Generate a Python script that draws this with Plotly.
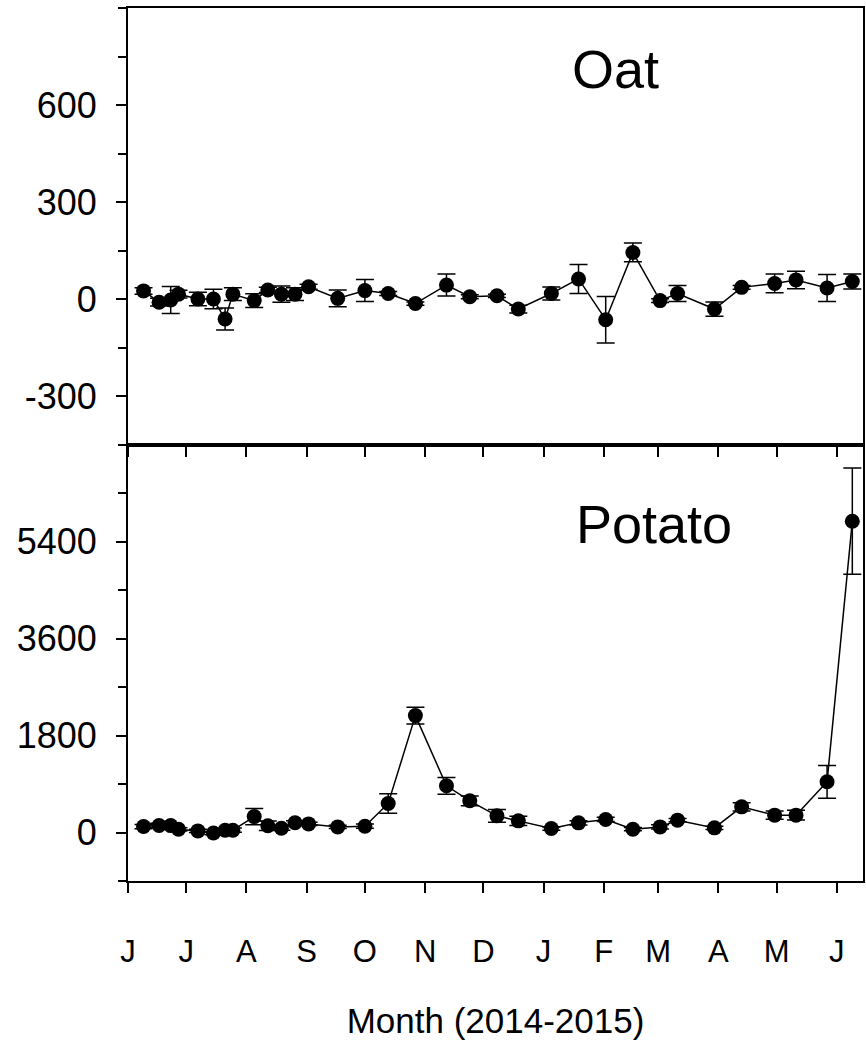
import plotly.graph_objects as go
from plotly.subplots import make_subplots

dates = ["2014-06-09", "2014-06-17", "2014-06-23", "2014-06-27", "2014-07-07", "2014-07-15",
         "2014-07-21", "2014-07-25", "2014-08-05", "2014-08-12", "2014-08-19", "2014-08-26",
         "2014-09-02", "2014-09-17", "2014-10-01", "2014-10-13", "2014-10-27", "2014-11-12",
         "2014-11-24", "2014-12-08", "2014-12-19", "2015-01-05", "2015-01-19", "2015-02-02",
         "2015-02-16", "2015-03-02", "2015-03-11", "2015-03-30", "2015-04-13", "2015-04-30",
         "2015-05-11", "2015-05-27", "2015-06-09"]

oat = [25, -10, -3, 15, 0, 0, -62, 15, -5, 28, 15, 15, 38, 2, 26, 17, -14, 43, 7, 10,
       -31, 17, 62, -64, 144, -5, 17, -31, 36, 48, 59, 34, 54]
oat_err = [10, 12, 42, 12, 21, 30, 34, 20, 21, 8, 25, 20, 8, 26, 34, 6, 5, 34, 6, 5,
           12, 20, 45, 72, 29, 6, 25, 22, 6, 29, 27, 42, 23]

potato = [110, 130, 128, 60, 30, -10, 43, 43, 295, 125, 80, 180, 160, 104, 117, 539, 2169,
          867, 588, 309, 216, 74, 179, 242, 61, 104, 229, 86, 476, 322, 322, 941, 5777]
potato_err = [40, 40, 40, 30, 30, 30, 30, 40, 150, 90, 40, 40, 30, 30, 40, 180, 155,
              155, 90, 118, 84, 30, 40, 40, 30, 40, 30, 30, 75, 75, 90, 304, 986]

month_ticks = ["2014-06-01", "2014-07-01", "2014-08-01", "2014-09-01", "2014-10-01",
               "2014-11-01", "2014-12-01", "2015-01-01", "2015-02-01", "2015-03-01",
               "2015-04-01", "2015-05-01", "2015-06-01"]
month_labels = ["J", "J", "A", "S", "O", "N", "D", "J", "F", "M", "A", "M", "J"]

oat_ticks = [-300, 0, 300, 600]
oat_labels = ["-300", "0", "300", "600"]
potato_ticks = [0, 1800, 3600, 5400]
potato_labels = ["0", "1800", "3600", "5400"]

FONT = "Liberation Sans, Arial, sans-serif"

fig = make_subplots(rows=2, cols=1, shared_xaxes=False, vertical_spacing=0)

def add_series(y, err, row):
    fig.add_trace(go.Scatter(
        x=dates, y=y, mode="lines+markers",
        line=dict(color="black", width=1.5),
        marker=dict(color="black", size=15),
        error_y=dict(type="data", array=err, visible=True, color="black",
                     thickness=1.5, width=9),
        showlegend=False), row=row, col=1)

add_series(oat, oat_err, 1)
add_series(potato, potato_err, 2)

xrange = ["2014-06-01", "2015-06-14 12:00"]
common_x = dict(range=xrange, type="date", tickmode="array", tickvals=month_ticks,
                showline=True, linecolor="black", linewidth=2, mirror=True,
                ticks="outside", ticklen=10, tickwidth=1.5, tickcolor="black",
                showgrid=False, zeroline=False)

fig.update_xaxes(**common_x, showticklabels=False, row=1, col=1)
fig.update_xaxes(**common_x, ticktext=month_labels, showticklabels=True,
                 tickfont=dict(family=FONT, size=31, color="black"),
                 ticklabelstandoff=32,
                 title=dict(text="Month (2014-2015)", standoff=40,
                            font=dict(family=FONT, size=35, color="black")),
                 row=2, col=1)

common_y = dict(showline=True, linecolor="black", linewidth=2, mirror=True,
                ticks="outside", ticklen=10, tickwidth=1.5, tickcolor="black",
                showgrid=False, zeroline=False, tickmode="array",
                tickfont=dict(family=FONT, size=36, color="black"),
                ticklabelstandoff=12)

fig.update_yaxes(**common_y, range=[-450, 900], tickvals=oat_ticks, ticktext=oat_labels,
                 minor=dict(tickmode="linear", tick0=0, dtick=150, ticks="outside",
                            ticklen=8, tickwidth=1.5, tickcolor="black", showgrid=False),
                 row=1, col=1)
fig.update_yaxes(**common_y, range=[-900, 7200], tickvals=potato_ticks, ticktext=potato_labels,
                 minor=dict(tickmode="linear", tick0=0, dtick=900, ticks="outside",
                            ticklen=8, tickwidth=1.5, tickcolor="black", showgrid=False),
                 row=2, col=1)

fig.add_annotation(text="Oat", xref="x domain", yref="y domain", x=0.6635, y=0.86,
                   xanchor="center", yanchor="middle",
                   showarrow=False, font=dict(family=FONT, size=54, color="black"))
fig.add_annotation(text="Potato", xref="x2 domain", yref="y2 domain", x=0.716, y=0.818,
                   xanchor="center", yanchor="middle",
                   showarrow=False, font=dict(family=FONT, size=54, color="black"))

fig.update_layout(width=866, height=1050, margin=dict(l=128, r=1, t=8, b=169),
                  plot_bgcolor="white", paper_bgcolor="white")

fig.write_html("out.html", config={"displayModeBar": False},
               post_script="document.body.style.margin='0';document.body.style.overflow='hidden';")
